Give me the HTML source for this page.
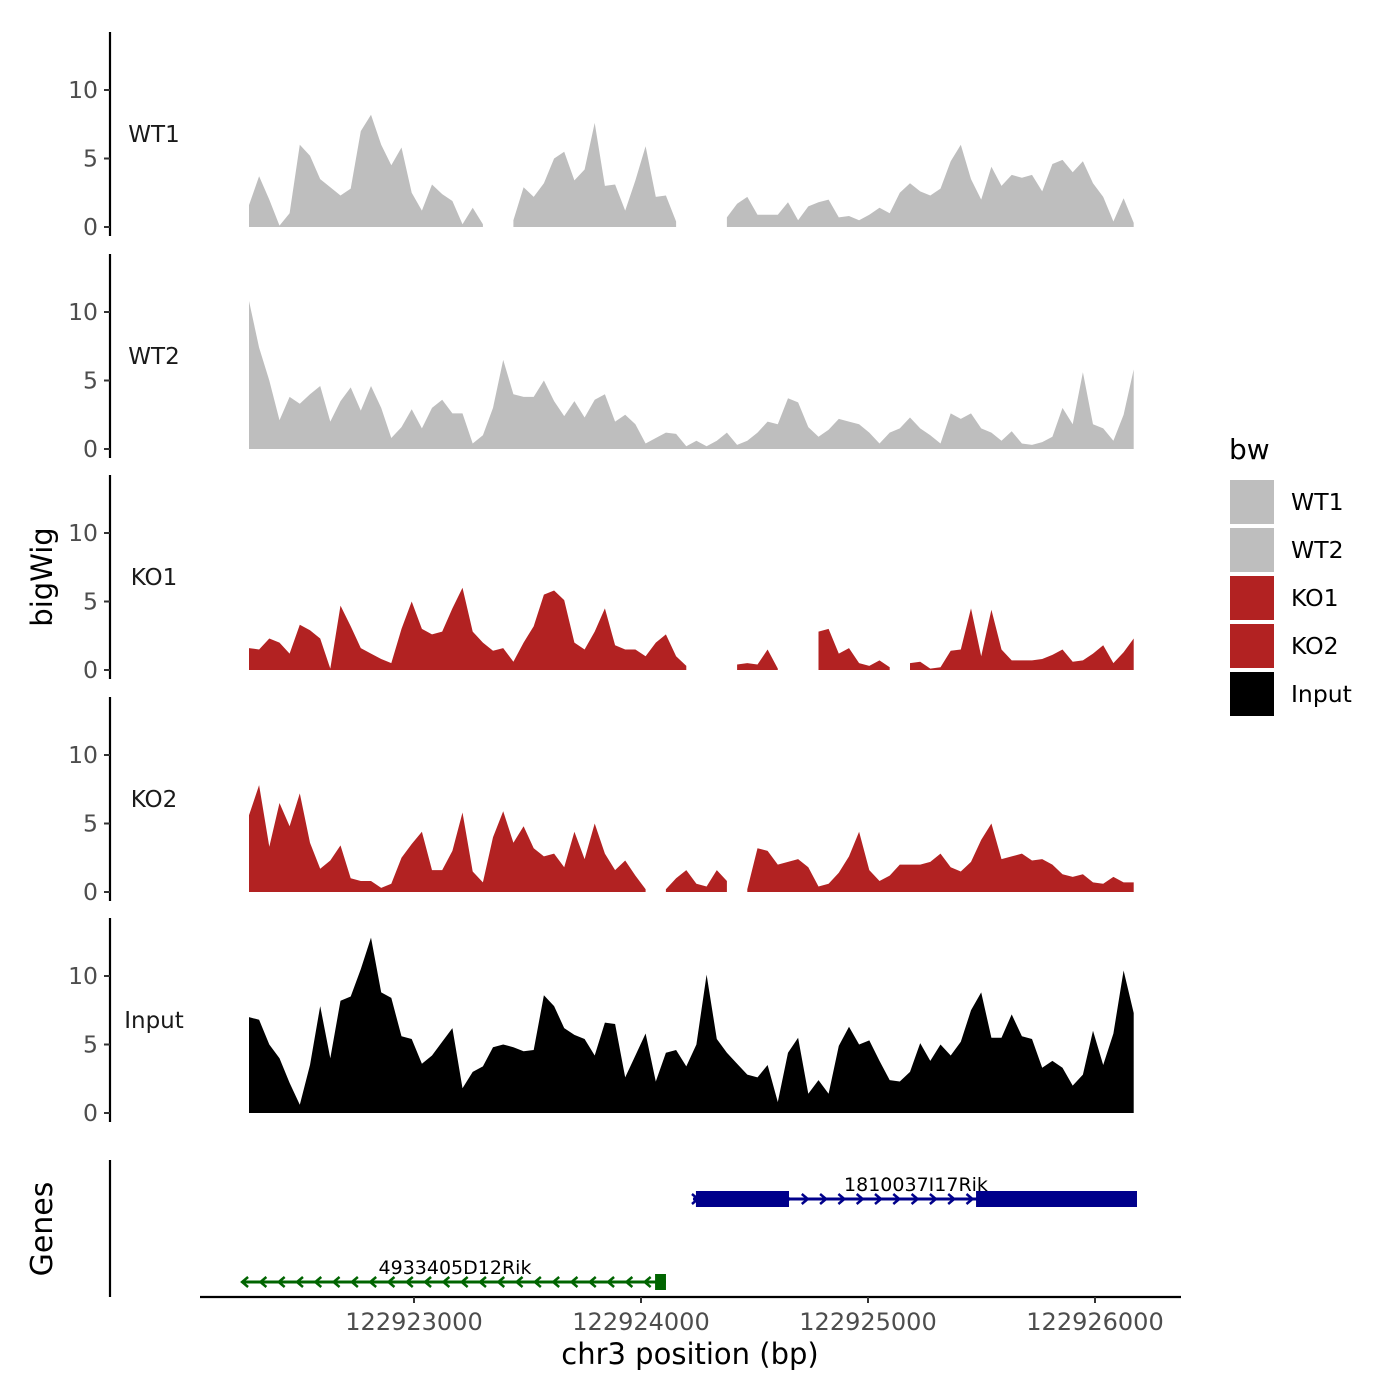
<!DOCTYPE html>
<html><head><meta charset="utf-8"><style>
html,body{margin:0;padding:0;background:#fff;}
svg{display:block;font-family:"DejaVu Sans","Liberation Sans",sans-serif;}
</style></head><body>
<svg id="chart" width="1400" height="1400" viewBox="0 0 1400 1400"></svg>
<script>
const samples = ["WT1","WT2","KO1","KO2","Input"];
const sampleColors = ["#bebebe","#bebebe","#b22222","#b22222","#000000"];
const binStart = 122922273;
const binStep = 44.8;
const wt1 = [1.6,3.7,2,0.1,1,6,5.2,3.5,2.9,2.3,2.8,7,8.2,6,4.5,5.8,2.5,1.2,3.1,2.4,1.9,0.2,1.4,0.2,null,null,0.5,2.9,2.2,3.2,5,5.5,3.4,4.2,7.6,3,3.1,1.2,3.4,5.9,2.2,2.3,0.4,null,null,null,null,0.7,1.7,2.2,0.9,0.9,0.9,1.8,0.5,1.5,1.8,2.0,0.7,0.8,0.5,0.9,1.4,1.0,2.5,3.2,2.6,2.3,2.8,4.8,6,3.5,2.0,4.4,3,3.8,3.6,3.8,2.6,4.6,4.9,4.0,4.8,3.2,2.2,0.4,2.1,0.3];
const wt2 = [10.8,7.4,5,2.1,3.8,3.3,4,4.6,2.0,3.5,4.5,2.8,4.6,3,0.8,1.6,2.9,1.5,3.0,3.6,2.6,2.6,0.4,1,3,6.5,4,3.8,3.8,5,3.5,2.4,3.5,2.3,3.6,4,2.0,2.5,1.8,0.4,0.8,1.2,1.1,0.2,0.6,0.2,0.6,1.2,0.3,0.6,1.2,2.0,1.8,3.7,3.4,1.6,0.9,1.4,2.2,2.0,1.8,1.2,0.4,1.2,1.5,2.3,1.5,1.0,0.4,2.6,2.2,2.6,1.5,1.2,0.6,1.3,0.4,0.3,0.5,0.9,3.0,1.8,5.6,1.8,1.5,0.6,2.5,5.8];
const ko1 = [1.6,1.5,2.3,2.0,1.2,3.3,2.9,2.3,0.1,4.7,3.2,1.6,1.2,0.8,0.5,3,5,3.0,2.6,2.8,4.5,6,2.8,2.0,1.4,1.6,0.6,2.0,3.2,5.5,5.8,5.1,2.0,1.5,2.8,4.5,1.8,1.5,1.5,1.0,2.0,2.6,1.0,0.3,null,null,null,null,0.4,0.5,0.4,1.5,0.1,null,null,null,2.8,3,1.2,1.6,0.5,0.3,0.7,0.2,null,0.5,0.6,0.1,0.2,1.4,1.5,4.5,1.0,4.4,1.5,0.7,0.7,0.7,0.8,1.1,1.5,0.6,0.7,1.2,1.8,0.5,1.3,2.3];
const ko2 = [5.6,7.8,3.3,6.5,4.8,7.2,3.6,1.7,2.3,3.4,1.0,0.8,0.8,0.3,0.6,2.5,3.5,4.4,1.6,1.6,3.0,5.8,1.5,0.7,4.0,5.9,3.6,4.8,3.2,2.6,2.8,1.8,4.4,2.4,5.0,2.8,1.6,2.3,1.2,0.2,null,0.2,1.0,1.6,0.6,0.4,1.6,0.8,null,0.2,3.2,3.0,2.0,2.2,2.4,1.8,0.4,0.6,1.4,2.6,4.4,1.6,0.8,1.2,2.0,2.0,2.0,2.2,2.8,1.8,1.5,2.2,3.8,5.0,2.4,2.6,2.8,2.3,2.4,2.0,1.3,1.1,1.3,0.7,0.6,1.1,0.7,0.7];
const inputSeries = [7.0,6.8,5,4.0,2.2,0.6,3.5,7.8,4.0,8.2,8.5,10.5,12.8,8.8,8.4,5.6,5.4,3.6,4.2,5.2,6.2,1.8,3.0,3.4,4.8,5.0,4.8,4.5,4.6,8.6,7.8,6.2,5.7,5.4,4.2,6.6,6.5,2.6,4.2,5.8,2.3,4.4,4.6,3.4,5.0,10.1,5.4,4.4,3.6,2.8,2.6,3.5,0.8,4.4,5.5,1.4,2.4,1.4,4.9,6.3,5.0,5.3,3.8,2.4,2.3,3.0,5.1,3.8,5.0,4.2,5.2,7.5,8.8,5.5,5.5,7.2,5.6,5.4,3.3,3.8,3.3,2.0,2.8,6.0,3.5,5.8,10.4,7.3];
const yTicks = [0,5,10];
const xTicks = [122923000,122924000,122925000,122926000];
const geneNames = ["1810037I17Rik","4933405D12Rik"];
const geneStarts = [122924229,122922247];
const geneEnds = [122926185,122924110];
const geneStrands = ["+","-"];
const geneExonStarts = [[122924242,122925476],[122924062]];
const geneExonEnds = [[122924652,122926185],[122924110]];
const geneColors = ["#00008b","#006400"];

const NS="http://www.w3.org/2000/svg";
const svg=document.getElementById('chart');
function mk(tag,attrs,parent){const e=document.createElementNS(NS,tag);for(const k in attrs)e.setAttribute(k,attrs[k]);(parent||svg).appendChild(e);return e;}
const xScale = bp => 414 + (bp-122923000)*0.227;
const panelZero = [227,449,670,892,1113];
const yPer = 13.7;
const allSeries=[wt1,wt2,ko1,ko2,inputSeries];

samples.forEach((name,p)=>{
  const g=mk('g',{});
  
  
  const y0=panelZero[p];
  const ys=v=>y0-v*yPer;
  const vals=allSeries[p];
  let seg=[];
  const segs=[];
  vals.forEach((v,i)=>{
    if(v===null){if(seg.length)segs.push(seg);seg=[];}
    else seg.push([xScale(binStart+i*binStep),ys(v)]);
  });
  if(seg.length)segs.push(seg);
  segs.forEach(s=>{
    let d='M'+s[0][0].toFixed(1)+','+y0;
    s.forEach(pt=>d+=' L'+pt[0].toFixed(1)+','+pt[1].toFixed(1));
    d+=' L'+s[s.length-1][0].toFixed(1)+','+y0+' Z';
    const a=mk('path',{d:d,fill:sampleColors[p],stroke:'none'},g);
    
    
  });
  const ax=mk('line',{x1:110,x2:110,y1:y0-195,y2:y0+9,stroke:'#000','stroke-width':2.2},g);
  
  
  yTicks.forEach(t=>{
    mk('line',{x1:104,x2:110,y1:ys(t),y2:ys(t),stroke:'#333','stroke-width':2},g);
    const tl=mk('text',{x:98,y:ys(t)+8,'text-anchor':'end','font-size':23.5,fill:'#4d4d4d'},g);
    tl.textContent=t;
    
    
  });
  const lb=mk('text',{x:154,y:y0-85,'text-anchor':'middle','font-size':23,fill:'#1a1a1a'},g);
  lb.textContent=name;
  
  
});

const gy=[1199,1282];
const ga=mk('line',{x1:110,x2:110,y1:1160,y2:1297,stroke:'#000','stroke-width':2.2});


geneNames.forEach((n,i)=>{
  const g=mk('g',{});
  
  
  const c=geneColors[i], y=gy[i];
  const x1=xScale(geneStarts[i]), x2=xScale(geneEnds[i]);
  mk('line',{x1:x1,x2:x2,y1:y,y2:y,stroke:c,'stroke-width':3},g);
  for(let x=x1+2;x<x2-4;x+=18.3){
    const d=geneStrands[i]==='+'?`M${x-3},${y-5} L${x+3},${y} L${x-3},${y+5}`:`M${x+3},${y-5} L${x-3},${y} L${x+3},${y+5}`;
    mk('path',{d:d,fill:'none',stroke:c,'stroke-width':2.5},g);
  }
  geneExonStarts[i].forEach((s,j)=>{
    const ex=mk('rect',{x:xScale(s),y:y-8,width:xScale(geneExonEnds[i][j])-xScale(s),height:16,fill:c},g);
    
    
  });
  const t=mk('text',{x:i===0?916:455,y:y-8,'text-anchor':'middle','font-size':19,fill:'#000'},g);
  t.textContent=n;
});

const xa=mk('line',{x1:200,x2:1181,y1:1297,y2:1297,stroke:'#000','stroke-width':2.2});


xTicks.forEach(t=>{
  mk('line',{x1:xScale(t),x2:xScale(t),y1:1297,y2:1303,stroke:'#333','stroke-width':2});
  const tl=mk('text',{x:xScale(t),y:1330,'text-anchor':'middle','font-size':24,fill:'#4d4d4d'});
  tl.textContent=t;
  
  
});
const xt=mk('text',{x:690,y:1364,'text-anchor':'middle','font-size':29,fill:'#000'});
xt.textContent='chr3 position (bp)';


const yt=mk('text',{x:52,y:577,'text-anchor':'middle','font-size':29,fill:'#000',transform:'rotate(-90 52 577)'});
yt.textContent='bigWig';


const gt=mk('text',{x:52,y:1229,'text-anchor':'middle','font-size':30,fill:'#000',transform:'rotate(-90 52 1229)'});
gt.textContent='Genes';



const lg=mk('g',{});


const ltitle=mk('text',{x:1229,y:459,'font-size':28,fill:'#000'},lg);
ltitle.textContent='bw';
samples.forEach((s,i)=>{
  const e=mk('g',{},lg);
  
  
  mk('rect',{x:1230,y:480+i*48,width:44,height:44,fill:sampleColors[i]},e);
  const t=mk('text',{x:1291,y:510+i*48,'font-size':23.5,fill:'#000'},e);
  t.textContent=s;
});
</script>
</body></html>
